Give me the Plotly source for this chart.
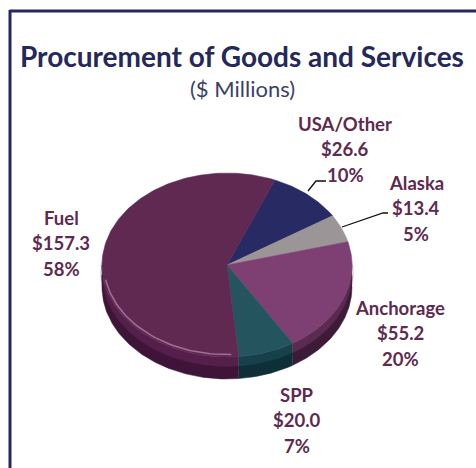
import math
import plotly.graph_objects as go

categories = ["USA/Other", "Alaska", "Anchorage", "SPP", "Fuel"]
values = [26.6, 13.4, 55.2, 20.0, 157.3]
percent_labels = ["10%", "5%", "20%", "7%", "58%"]
value_labels = ["$26.6", "$13.4", "$55.2", "$20.0", "$157.3"]
top_colors = ["#272a63", "#9c9597", "#7e3f72", "#24555f", "#5f2952"]
rim_colors = [("#1a1c48", "#14163a"), ("#6e686a", "#5a5557"), ("#5b2a52", "#3d1a38"),
              ("#16404a", "#0f2f38"), ("#551f4c", "#3e1538")]
label_xy = [(345, 149), (416, 208), (400, 333), (297, 420), (61, 243)]

CX, CY, RX, RY, DEPTH, START = 227, 265, 125, 92, 22, 22.5
total = sum(values)
fig = go.Figure()


def pt(deg, dy=0.0, scale=1.0):
    a = math.radians(deg)
    return CX + RX * scale * math.sin(a), CY + dy - RY * scale * math.cos(a)


def add_poly(pts, color):
    fig.add_trace(go.Scatter(x=[p[0] for p in pts], y=[p[1] for p in pts], mode="lines",
                             fill="toself", fillcolor=color, line=dict(color=color, width=0.5),
                             hoverinfo="skip", showlegend=False))


# soft shadow at the right edge
shadow = [pt(a, 8, 1.012) for a in range(0, 361, 3)]
add_poly(shadow, "#d8d6d8")

# rim, in two tonal bands, only where the side of the disc is visible
bands = [(0, DEPTH * 0.55, 0), (DEPTH * 0.45, DEPTH, 1)]
for lo, hi, tone in bands:
    ang = START
    for v, rc in zip(values, rim_colors):
        span = v / total * 360
        a0, a1 = max(ang, 90), min(ang + span, 270)
        if a1 > a0:
            n = max(2, int(a1 - a0))
            arc = [a0 + (a1 - a0) * i / n for i in range(n + 1)]
            add_poly([pt(a, lo) for a in arc] + [pt(a, hi) for a in reversed(arc)], rc[tone])
        ang += span

# top face
ang = START
for v, c in zip(values, top_colors):
    span = v / total * 360
    n = max(2, int(span))
    add_poly([(CX, CY)] + [pt(ang + span * i / n) for i in range(n + 1)] + [(CX, CY)], c)
    ang += span

# highlight along the lower-left bevel
hl = [pt(a, -1, 0.985) for a in range(178, 262, 2)]
fig.add_trace(go.Scatter(x=[p[0] for p in hl], y=[p[1] for p in hl], mode="lines",
                         line=dict(color="#a06f97", width=1.5), hoverinfo="skip", showlegend=False))

# leader lines
for xs, ys in [([308, 316, 326], [191, 181, 181]), ([342, 383, 388], [227, 213, 213])]:
    fig.add_trace(go.Scatter(x=xs, y=ys, mode="lines", line=dict(color="#111111", width=1.3),
                             hoverinfo="skip", showlegend=False))

FONT = "Lato"
LABEL = "#5e2a50"
for name, val, pct, (x, y) in zip(categories, value_labels, percent_labels, label_xy):
    for text, off in [(name, -25.5), (val, 0), (pct, 26)]:
        fig.add_annotation(x=x, y=y + off, xref="x", yref="y", showarrow=False,
                           text=f"<b>{text}</b>", font=dict(family=FONT, size=18.5, color=LABEL))

fig.add_annotation(x=242, y=56, xref="x", yref="y", showarrow=False,
                   text="<b>Procurement of Goods and Services</b>",
                   font=dict(family=FONT, size=28, color="#25285a"))
fig.add_annotation(x=242, y=88, xref="x", yref="y", showarrow=False, text="($ Millions)",
                   font=dict(family=FONT, size=22, color="#3c3f6b"))

fig.add_shape(type="line", x0=9.5, y0=11, x1=476, y1=11, xref="x", yref="y", line=dict(color="#25285a", width=3))
fig.add_shape(type="line", x0=10, y0=10, x1=10, y1=468, xref="x", yref="y", line=dict(color="#25285a", width=3))

fig.update_layout(width=476, height=468, margin=dict(l=0, r=0, t=0, b=0),
                  paper_bgcolor="white", plot_bgcolor="white", showlegend=False,
                  xaxis=dict(range=[0, 476], visible=False, fixedrange=True),
                  yaxis=dict(range=[468, 0], visible=False, fixedrange=True))
fig.write_html("out.html", config=dict(displayModeBar=False),
               post_script="document.body.style.margin='0';document.documentElement.style.overflow='hidden';")
